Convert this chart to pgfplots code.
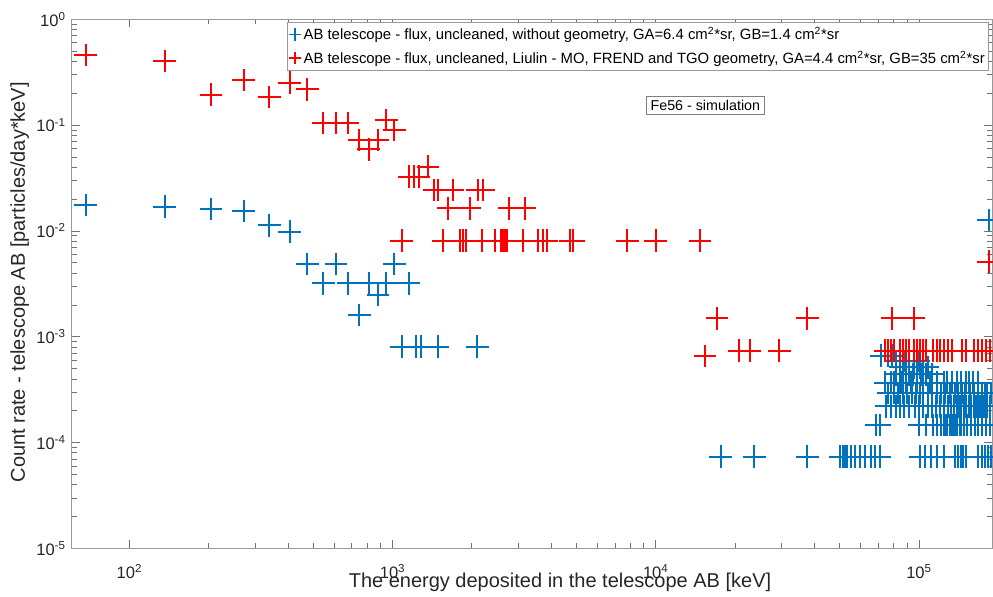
\documentclass[border=0pt]{standalone}
\usepackage{pgfplots}
\pgfplotsset{compat=1.18}
\usepackage{fontspec}
\setmainfont{Liberation Sans}
\definecolor{mblue}{RGB}{0,114,189}
\definecolor{mred}{RGB}{255,0,0}
\definecolor{axgray}{RGB}{38,38,38}
\begin{document}
\begin{tikzpicture}
\path[use as bounding box] (-53.8pt,-35.8pt) rectangle (690.95pt,411.25pt);
\begin{axis}[
  scale only axis,
  width=690.2pt, height=396.75pt,
  xmode=log, ymode=log,
  xmin=60.41, xmax=189400, ymin=1e-5, ymax=1,
  axis line style={black!40, line width=0.5pt},
  every tick/.style={black!55, line width=0.5pt},
  major tick length=6pt, minor tick length=3.75pt,
  tick align=inside, tick pos=both,
  xtick={100,1000,10000,100000},
  xticklabels={10\textsuperscript{2},10\textsuperscript{3},10\textsuperscript{4},10\textsuperscript{5}},
  ytick={1e-5,1e-4,1e-3,1e-2,1e-1,1},
  yticklabels={10\textsuperscript{-5},10\textsuperscript{-4},10\textsuperscript{-3},10\textsuperscript{-2},10\textsuperscript{-1},10\textsuperscript{0}},
  ticklabel style={font=\fontsize{12.4}{14}\selectfont, text=axgray},
  xticklabel style={anchor=base, yshift=-22.5pt},
  yticklabel style={anchor=east, xshift=-1pt},
  legend style={at={(rel axis cs:0.9968,0.9955)}, anchor=north east,
    draw=black!40, line width=0.5pt, fill=white,
    font=\fontsize{11.15}{13}\selectfont, inner xsep=1pt, inner ysep=1.8pt, row sep=3pt},
  legend cell align=left,
  legend image code/.code={\draw[#1, mark size=4.6pt, line width=1.3pt] plot coordinates {(0.12cm,0cm)};},
  clip=false,
]
\addplot[only marks, mark=+, mark size=8.5pt, line width=1.5pt, color=mblue] table {
x y
68.2 0.0176
136 0.0169
204 0.0161
272 0.0154
340 0.0113
407 0.00983
475 0.00487
545 0.0032
610 0.00487
678 0.0032
748 0.0016
812 0.0032
881 0.00248
947 0.0032
1016 0.00487
1155 0.0032
1084 0.000804
1228 0.000804
1279 0.000804
1486 0.000804
2100 0.000804
17660 7.35e-5
23660 7.35e-5
37680 7.35e-5
50100 7.35e-5
51350 7.35e-5
52400 7.35e-5
53400 7.35e-5
55050 7.35e-5
57200 7.35e-5
59750 7.35e-5
62400 7.35e-5
65600 7.35e-5
68100 7.35e-5
71100 7.35e-5
100900 7.35e-5
105400 7.35e-5
110800 7.35e-5
116900 7.35e-5
123900 7.35e-5
137000 7.35e-5
140600 7.35e-5
143900 7.35e-5
147500 7.35e-5
151000 7.35e-5
168000 7.35e-5
172900 7.35e-5
177800 7.35e-5
182900 7.35e-5
188200 7.35e-5
68700 1.47e-4
71000 1.47e-4
100000 1.47e-4
106400 1.47e-4
113000 1.47e-4
117000 1.47e-4
121000 1.47e-4
124000 1.47e-4
126000 1.47e-4
128000 1.47e-4
131000 1.47e-4
133000 1.47e-4
136000 1.47e-4
138000 1.47e-4
140000 1.47e-4
143000 1.47e-4
144000 1.47e-4
148000 1.47e-4
152000 1.47e-4
158000 1.47e-4
163000 1.47e-4
168000 1.47e-4
173500 1.47e-4
179700 1.47e-4
186000 1.47e-4
75000 2.205e-4
78300 2.205e-4
82000 2.205e-4
85000 2.205e-4
88000 2.205e-4
92000 2.205e-4
96700 2.205e-4
100000 2.205e-4
104000 2.205e-4
108000 2.205e-4
112000 2.205e-4
116000 2.205e-4
120200 2.205e-4
124000 2.205e-4
128900 2.205e-4
132000 2.205e-4
136000 2.205e-4
139000 2.205e-4
142000 2.205e-4
145000 2.205e-4
148000 2.205e-4
151000 2.205e-4
155000 2.205e-4
158000 2.205e-4
161700 2.205e-4
164000 2.205e-4
167500 2.205e-4
170000 2.205e-4
173500 2.205e-4
176000 2.205e-4
179700 2.205e-4
182000 2.205e-4
186000 2.205e-4
76300 2.94e-4
80400 2.94e-4
83000 2.94e-4
86900 2.94e-4
90000 2.94e-4
94000 2.94e-4
97000 2.94e-4
100900 2.94e-4
104000 2.94e-4
108000 2.94e-4
112000 2.94e-4
117000 2.94e-4
121000 2.94e-4
126000 2.94e-4
131000 2.94e-4
137000 2.94e-4
141000 2.94e-4
145600 2.94e-4
150000 2.94e-4
156000 2.94e-4
161700 2.94e-4
167000 2.94e-4
173500 2.94e-4
178000 2.94e-4
182000 2.94e-4
187000 2.94e-4
74300 3.675e-4
78300 3.675e-4
80000 3.675e-4
84700 3.675e-4
86000 3.675e-4
89300 3.675e-4
93000 3.675e-4
98400 3.675e-4
103600 3.675e-4
110000 3.675e-4
117000 3.675e-4
124400 3.675e-4
128000 3.675e-4
133400 3.675e-4
140000 3.675e-4
145000 3.675e-4
150800 3.675e-4
155000 3.675e-4
160000 3.675e-4
168000 3.675e-4
82000 4.41e-4
86900 4.41e-4
91700 4.41e-4
95000 4.41e-4
98400 4.41e-4
102000 4.41e-4
106000 4.41e-4
112000 4.41e-4
84700 5.145e-4
87000 5.145e-4
89300 5.145e-4
92000 5.145e-4
95800 5.145e-4
98000 5.145e-4
100900 5.145e-4
104000 5.145e-4
108000 5.145e-4
82000 5.88e-4
85000 5.88e-4
88000 5.88e-4
92000 5.88e-4
96000 5.88e-4
100000 5.88e-4
72000 6.615e-4
76000 6.615e-4
79000 6.615e-4
184000 0.0127
};
\addlegendentry{AB telescope - flux, uncleaned, without geometry, GA=6.4 cm\textsuperscript{2}*sr, GB=1.4 cm\textsuperscript{2}*sr}
\addplot[only marks, mark=+, mark size=8.5pt, line width=1.5pt, color=mred] table {
x y
68.2 0.46
136 0.403
204 0.194
272 0.267
340 0.184
407 0.252
475 0.218
545 0.105
610 0.105
678 0.105
748 0.0723
812 0.059
881 0.0723
947 0.112
1016 0.0899
1084 0.00808
1159 0.0325
1210 0.0325
1255 0.0325
1362 0.0405
1438 0.0244
1486 0.0244
1694 0.0244
2108 0.0244
2214 0.0244
1630 0.0163
1968 0.0163
2778 0.0163
3187 0.0163
1560 0.00808
1803 0.00808
1847 0.00808
1902 0.00808
2183 0.00808
2451 0.00808
2576 0.00808
2621 0.00808
2676 0.00808
2730 0.00808
3140 0.00808
3562 0.00808
3743 0.00808
3854 0.00808
4725 0.00808
4860 0.00808
7801 0.00808
10000 0.00808
14730 0.00808
17070 0.00149
37680 0.00149
79100 0.00149
95300 0.00149
15380 0.000657
20790 0.000738
22820 0.000738
29480 0.000738
74300 0.000738
76300 0.000738
78300 0.000738
80400 0.000738
84700 0.000738
86900 0.000738
89300 0.000738
91700 0.000738
95800 0.000738
98400 0.000738
100900 0.000738
103600 0.000738
106400 0.000738
113000 0.000738
117000 0.000738
120200 0.000738
124400 0.000738
128900 0.000738
133400 0.000738
145600 0.000738
150800 0.000738
161700 0.000738
167500 0.000738
173500 0.000738
179700 0.000738
186000 0.000738
184000 0.00512
};
\addlegendentry{AB telescope - flux, uncleaned, Liulin - MO, FREND and TGO geometry, GA=4.4 cm\textsuperscript{2}*sr, GB=35 cm\textsuperscript{2}*sr}
\node[draw=black!50, fill=white, line width=0.5pt, font=\fontsize{10.7}{12}\selectfont, inner xsep=3pt, inner ysep=3pt] at (rel axis cs:0.6885,0.8376) {Fe56 - simulation};
\node[rotate=90, font=\fontsize{15}{17}\selectfont, text=axgray] at (rel axis cs:-0.0565,0.503) {Count rate - telescope AB [particles/day*keV]};
\node[anchor=base, font=\fontsize{15}{17}\selectfont, text=axgray] at (rel axis cs:0.5306,-0.0737) {The energy deposited in the telescope AB [keV]};
\end{axis}
\end{tikzpicture}
\end{document}
